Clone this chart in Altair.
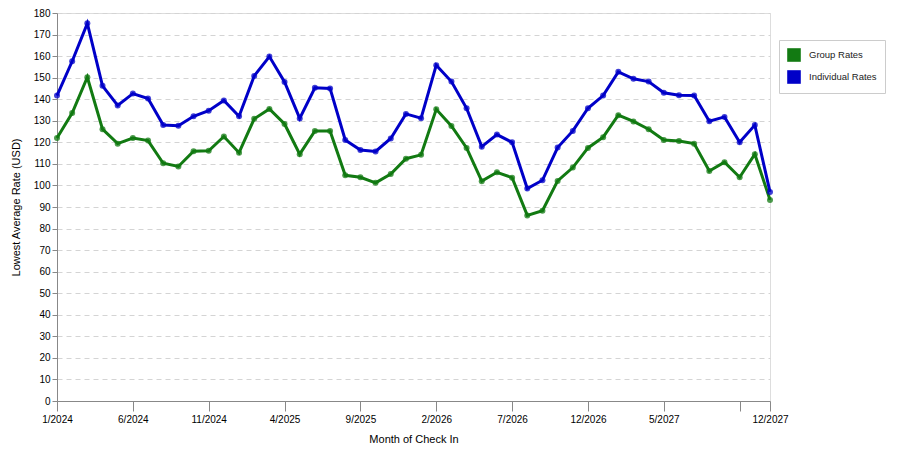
import altair as alt
import pandas as pd

tick_labels = ["1/2024", "6/2024", "11/2024", "4/2025", "9/2025", "2/2026",
               "7/2026", "12/2026", "5/2027", "", "12/2027"]
tick_positions = [0, 5, 10, 15, 20, 25, 30, 35, 40, 45, 47]

month_index = list(range(48))

group_rates = [122.0, 133.6, 150.2, 126.1, 119.4, 122.0, 120.8, 110.3, 108.8, 115.9,
               116.1, 122.7, 115.2, 130.9, 135.5, 128.5, 114.5, 125.3, 125.3, 104.7,
               103.8, 101.2, 105.3, 112.4, 114.2, 135.3, 127.6, 117.4, 102.0, 106.1,
               103.6, 86.1, 88.3, 102.1, 108.3, 117.4, 122.4, 132.6, 129.7, 126.1,
               121.1, 120.6, 119.4, 106.7, 110.8, 103.8, 114.5, 93.3]

individual_rates = [141.7, 157.6, 175.2, 146.2, 137.1, 142.6, 140.3, 128.0, 127.7, 132.1,
                    134.7, 139.4, 132.1, 150.8, 159.8, 148.0, 131.1, 145.3, 145.0, 121.1,
                    116.4, 115.8, 121.8, 133.2, 131.2, 155.8, 148.2, 135.8, 118.0, 123.6,
                    120.0, 98.6, 102.4, 117.6, 125.3, 135.8, 141.7, 152.7, 149.5, 148.2,
                    143.0, 141.8, 141.7, 129.8, 131.8, 120.0, 128.0, 97.0]

series_names = ["Group Rates", "Individual Rates"]
series_colors = ["#127a12", "#0000c8"]

df = pd.DataFrame({
    "m": month_index * 2,
    "rate": group_rates + individual_rates,
    "series": [series_names[0]] * 48 + [series_names[1]] * 48,
})

label_map = "{" + ",".join(f"'{p}':'{l}'" for p, l in zip(tick_positions, tick_labels)) + "}"

x = alt.X("m:Q",
          scale=alt.Scale(domain=[0, 47], nice=False, zero=False),
          axis=alt.Axis(values=tick_positions, labelExpr=f"{label_map}[datum.value]",
                        title="Month of Check In", grid=False, tickSize=10,
                        labelPadding=3, titlePadding=9, labelFlush=False,
                        titleFontWeight=400))
y = alt.Y("rate:Q",
          scale=alt.Scale(domain=[0, 180], nice=False),
          axis=alt.Axis(values=list(range(0, 181, 10)), title="Lowest Average Rate (USD)",
                        tickSize=5, gridDash=[5, 4], gridColor="#d4d4d4",
                        labelPadding=2, titlePadding=12, titleFontWeight=400))
color = alt.Color("series:N",
                  scale=alt.Scale(domain=series_names, range=series_colors),
                  legend=alt.Legend(title=None, orient="none", legendX=722, legendY=27,
                                    symbolType="square", symbolSize=169, symbolOpacity=1,
                                    symbolStrokeColor="#333", symbolStrokeWidth=0.6,
                                    strokeColor="#cccccc", fillColor="white", padding=8,
                                    labelFontSize=9.5, labelFont="Liberation Sans",
                                    labelColor="#222",
                                    rowPadding=6, labelOffset=8))

base = alt.Chart(df)
lines = base.mark_line(strokeWidth=3).encode(x=x, y=y, color=color)
points = base.mark_circle(size=36, opacity=0.75).encode(x=x, y=y, color=color)

chart = (lines + points).properties(
    width=713, height=388,
    padding={"left": 49, "top": 5, "right": 122, "bottom": 46},
    autosize=alt.AutoSizeParams(type="none"),
).configure_view(
    stroke="#222", strokeWidth=1
).configure_axis(
    domainColor="#222", tickColor="#222", labelColor="#222", titleColor="#222",
    labelFont="Liberation Sans", titleFont="Liberation Sans",
    labelFontSize=9, titleFontSize=9, titleFontWeight=400,
).configure(background="white")

chart.save("out.html", embed_options={"renderer": "svg", "actions": False})
